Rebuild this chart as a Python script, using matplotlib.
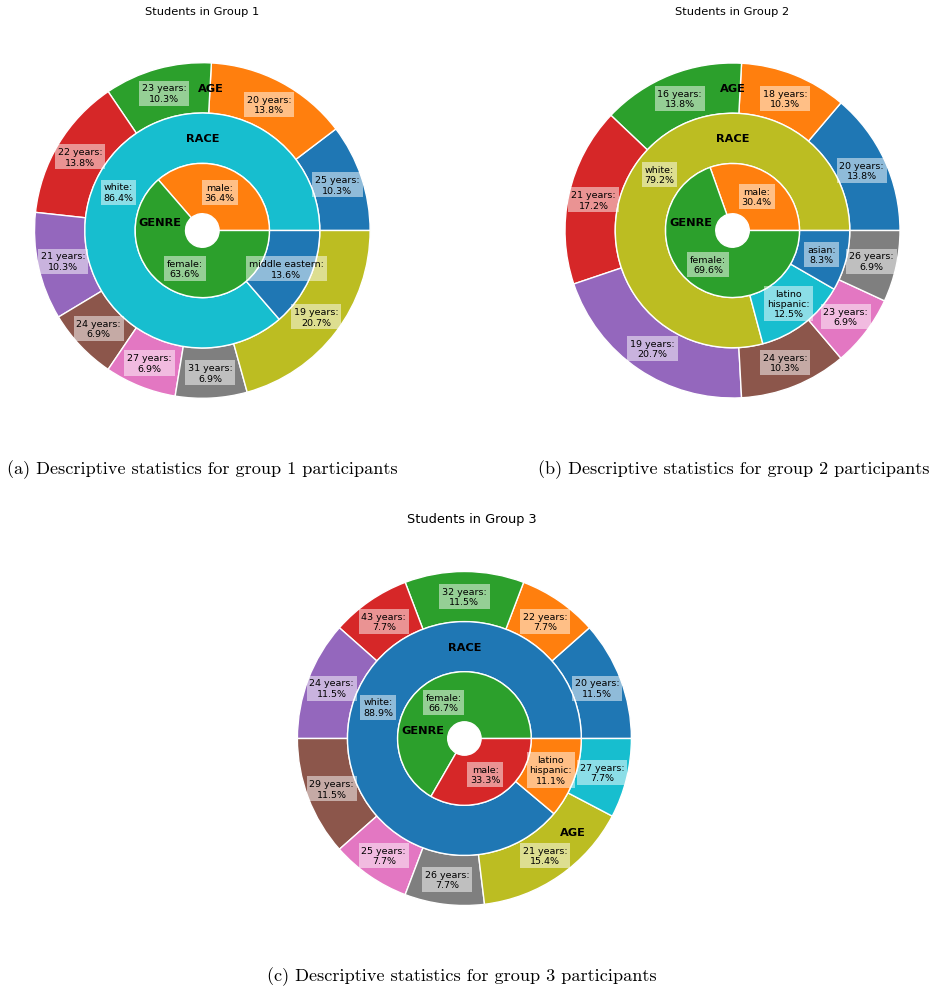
"""Three nested donut charts: genre / race / age of the students in each group."""

import matplotlib
matplotlib.use("Agg")
import matplotlib.pyplot as plt

# ---- data -------------------------------------------------------------
g1_age_labels = ["25 years", "20 years", "23 years", "22 years", "21 years",
                 "24 years", "27 years", "31 years", "19 years"]
g1_age_counts = [3, 4, 3, 4, 3, 2, 2, 2, 6]
g1_race_labels = ["white", "middle eastern"]
g1_race_counts = [19, 3]
g1_genre_labels = ["male", "female"]
g1_genre_counts = [8, 14]

g2_age_labels = ["20 years", "18 years", "16 years", "21 years", "19 years",
                 "24 years", "23 years", "26 years"]
g2_age_counts = [4, 3, 4, 5, 6, 3, 2, 2]
g2_race_labels = ["white", "latino\nhispanic", "asian"]
g2_race_counts = [19, 3, 2]
g2_genre_labels = ["male", "female"]
g2_genre_counts = [7, 16]

g3_age_labels = ["20 years", "22 years", "32 years", "43 years", "24 years",
                 "29 years", "25 years", "26 years", "21 years", "27 years"]
g3_age_counts = [3, 2, 3, 2, 3, 3, 2, 2, 4, 2]
g3_race_labels = ["white", "latino\nhispanic"]
g3_race_counts = [8, 1]
g3_genre_labels = ["female", "male"]
g3_genre_counts = [6, 3]

titles = ["Students in Group 1", "Students in Group 2", "Students in Group 3"]
captions = ["(a) Descriptive statistics for group 1 participants",
            "(b) Descriptive statistics for group 2 participants",
            "(c) Descriptive statistics for group 3 participants"]

W, H = 936, 995


def _autopct(names):
    it = iter(names)
    return lambda p: f"{next(it)}:\n{p:.1f}%"


def donut(ax, age, race, genre, age_xy, fs):
    box = dict(facecolor="white", alpha=0.5, edgecolor="none",
               boxstyle="square,pad=0.3")
    tp = dict(fontsize=fs, bbox=box)
    wp = dict(width=0.3, edgecolor="white", linewidth=1)
    # outer ring first so the colour cycle carries on into race and genre
    for (names, counts), radius in zip([age, race, genre], [1.0, 0.7, 0.4]):
        ax.pie(counts, radius=radius, wedgeprops=wp, textprops=tp,
               autopct=_autopct(names), pctdistance=(radius - 0.15) / radius)
    ax.set_xlim(-1, 1)
    ax.set_ylim(-1, 1)
    ax.set_aspect("equal")
    kw = dict(ha="center", va="center", fontsize=8.2, fontweight="bold")
    ax.text(*age_xy, "AGE", **kw)
    ax.text(0, 0.55, "RACE", **kw)
    ax.text(-0.25, 0.05, "GENRE", **kw)


def add_pie_axes(fig, cx, cy, r):
    return fig.add_axes([(cx - r) / W, 1 - (cy + r) / H, 2 * r / W, 2 * r / H])


fig = plt.figure(figsize=(W / 100, H / 100), dpi=100)

ax1 = add_pie_axes(fig, 202.3, 231.5, 167.8)
donut(ax1, (g1_age_labels, g1_age_counts), (g1_race_labels, g1_race_counts),
      (g1_genre_labels, g1_genre_counts), (0.05, 0.85), 6.8)

ax2 = add_pie_axes(fig, 732.5, 231.5, 167.5)
donut(ax2, (g2_age_labels, g2_age_counts), (g2_race_labels, g2_race_counts),
      (g2_genre_labels, g2_genre_counts), (0.0, 0.85), 6.8)

ax3 = add_pie_axes(fig, 464.4, 739.5, 167.0)
donut(ax3, (g3_age_labels, g3_age_counts), (g3_race_labels, g3_race_counts),
      (g3_genre_labels, g3_genre_counts), (0.65, -0.56), 6.8)

fig.text(202 / W, 1 - 12 / H, titles[0], ha="center", va="center", fontsize=8.2)
fig.text(732 / W, 1 - 12 / H, titles[1], ha="center", va="center", fontsize=8.2)
fig.text(472 / W, 1 - 519 / H, titles[2], ha="center", va="center", fontsize=9.3)

cap = dict(ha="center", va="center", fontsize=13.1, family="cmr10")
fig.text(202.5 / W, 1 - 470 / H, captions[0], **cap)
fig.text(733.5 / W, 1 - 470 / H, captions[1], **cap)
fig.text(461.5 / W, 1 - 977 / H, captions[2], **cap)

fig.savefig("out.png", dpi=100)
plt.close(fig)
